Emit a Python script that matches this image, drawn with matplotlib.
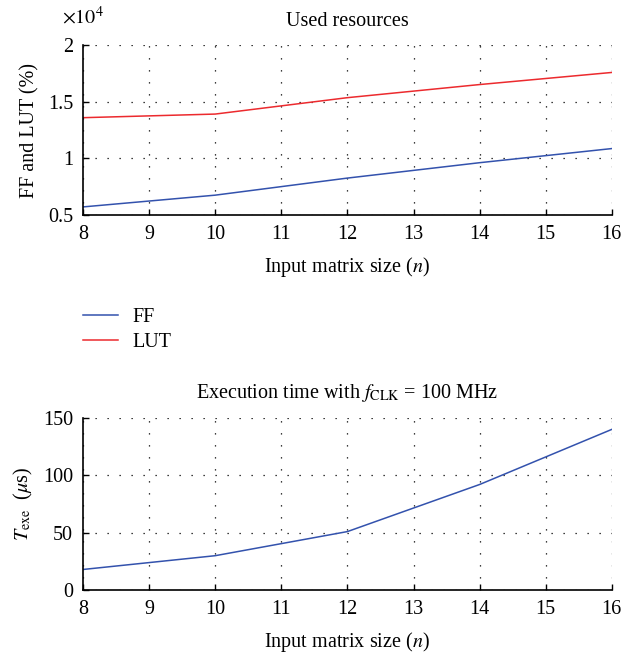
import matplotlib
matplotlib.use('Agg')
import matplotlib.pyplot as plt
from matplotlib.lines import Line2D

plt.rcParams['font.family'] = ['Liberation Serif', 'DejaVu Serif']
plt.rcParams['mathtext.fontset'] = 'stix'
plt.rcParams['font.size'] = 14.5

# matrix sizes and synthesis / timing results
n_size = [8, 10, 12, 14, 16]
ff_used = [5700, 6740, 8250, 9610, 10860]
lut_used = [13590, 13910, 15360, 16520, 17590]
t_exe = [18, 30, 51, 92, 140]

xticks = list(range(8, 17))
blue = '#3352ad'
red = '#ec2a2e'


def style_axes(ax):
    ax.spines['top'].set_visible(False)
    ax.spines['right'].set_visible(False)
    ax.spines['left'].set_linewidth(1.2)
    ax.spines['bottom'].set_linewidth(1.2)
    ax.grid(True, color='black', linestyle=(0, (1, 8.6)), linewidth=0.9)
    ax.tick_params(direction='in', length=4, width=1, pad=7)
    ax.set_xlim(8, 16)
    ax.set_xticks(xticks)


fig = plt.figure(figsize=(6.38, 6.55), dpi=100)

# resources
ax1 = fig.add_axes([0.130, 0.672, 0.829, 0.259])
style_axes(ax1)
ax1.plot(n_size, ff_used, color=blue, lw=1.1)
ax1.plot(n_size, lut_used, color=red, lw=1.1)
ax1.set_ylim(5000, 20000)
ax1.set_yticks([5000, 10000, 15000, 20000])
ax1.set_yticklabels(['0.5', '1', '1.5', '2'])
ax1.set_title('Used resources', fontsize=14.5, pad=14)
ax1.text(-0.04, 1.165, r'$\times 10^{4}$', transform=ax1.transAxes,
         fontsize=14.5, ha='left', va='center')
ax1.set_xlabel(r'Input matrix size ($n$)', labelpad=8)
ax1.set_ylabel('FF and LUT (%)', labelpad=6)

# legend below the first plot
handles = [Line2D([], [], color=blue, lw=1.1), Line2D([], [], color=red, lw=1.1)]
fig.legend(handles, ['FF', 'LUT'], loc='upper left', bbox_to_anchor=(0.101, 0.558),
           frameon=False, handlelength=1.75, handletextpad=0.75, labelspacing=0.33,
           fontsize=14.5)

# execution time
ax2 = fig.add_axes([0.130, 0.099, 0.829, 0.263])
style_axes(ax2)
ax2.plot(n_size, t_exe, color=blue, lw=1.1)
ax2.set_ylim(0, 150)
ax2.set_yticks([0, 50, 100, 150])
ax2.set_title(r'Execution time with $f_{\mathrm{CLK}}$ = 100 MHz', fontsize=14.5, pad=14)
ax2.set_xlabel(r'Input matrix size ($n$)', labelpad=8)
ax2.set_ylabel(r'$T_{\mathrm{exe}}$  ($\mu$s)', labelpad=6)

fig.savefig('out.png', dpi=100)
